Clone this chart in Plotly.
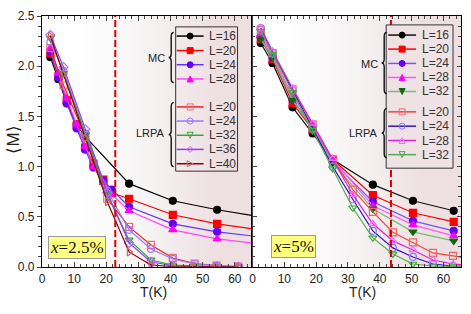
import plotly.graph_objects as go

# ------------------------------------------------------------------ data
# panel (a): x = 2.5 %
T_MC_A = [2.6, 5.1, 7.7, 10.8, 13.4, 16.0, 19.1, 21.7, 27.1, 40.7, 54.5, 68.0]
T_MC16_A = [2.6, 5.1, 7.7, 10.8, 13.4, 27.1, 40.7, 54.5, 68.0]
M_MC16_A = [2.09, 1.87, 1.63, 1.42, 1.30, 0.83, 0.66, 0.57, 0.50]
M_MC20_A = [2.13, 1.90, 1.66, 1.41, 1.19, 1.03, 0.87, 0.74, 0.68, 0.52, 0.43, 0.37]
M_MC24_A = [2.15, 1.89, 1.63, 1.38, 1.17, 0.99, 0.86, 0.77, 0.60, 0.43, 0.35, 0.30]
M_MC28_A = [2.18, 1.93, 1.68, 1.42, 1.20, 1.00, 0.84, 0.72, 0.56, 0.37, 0.28, 0.23]

T_LR_A = [2.6, 6.7, 13.5, 20.3, 27.1, 33.9, 40.7, 47.5, 54.3, 61.1]
M_LR20_A = [2.18, 1.81, 1.30, 0.68, 0.40, 0.22, 0.09, 0.035, 0.015, 0.005]
M_LR24_A = [2.24, 1.95, 1.33, 0.76, 0.37, 0.18, 0.08, 0.03, 0.015, 0.005]
M_LR32_A = [2.28, 1.93, 1.32, 0.72, 0.27, 0.07, 0.02, 0.01, 0.005, 0.002]
M_LR36_A = [2.31, 1.99, 1.37, 0.74, 0.24, 0.05, 0.015, 0.005, 0.002, 0.001]
M_LR40_A = [2.30, 1.92, 1.28, 0.65, 0.15, 0.02, 0.005, 0.002, 0.001, 0.0]

# panel (b): x = 5 %
T_MC_B = [2.6, 6.3, 12.6, 18.9, 25.2, 37.8, 50.4, 63.2]
M_MC16_B = [2.23, 2.03, 1.59, 1.33, 1.07, 0.82, 0.66, 0.56]
M_MC20_B = [2.27, 2.07, 1.63, 1.37, 1.07, 0.715, 0.54, 0.45]
M_MC24_B = [2.29, 2.09, 1.67, 1.39, 1.05, 0.65, 0.46, 0.36]
M_MC28_B = [2.32, 2.11, 1.70, 1.41, 1.07, 0.61, 0.42, 0.31]
M_MC32_B = [2.27, 2.09, 1.66, 1.38, 1.04, 0.58, 0.35, 0.26]

T_LR_B = [2.6, 6.3, 12.6, 18.9, 25.2, 31.5, 37.8, 44.1, 50.4, 56.7, 63.0, 69.3]
M_LR20_B = [2.36, 2.13, 1.77, 1.42, 1.07, 0.77, 0.55, 0.345, 0.245, 0.14, 0.11, 0.08]
M_LR24_B = [2.38, 2.13, 1.76, 1.38, 1.00, 0.675, 0.36, 0.19, 0.10, 0.03, 0.01, 0.005]
M_LR28_B = [2.38, 2.15, 1.78, 1.43, 1.08, 0.72, 0.43, 0.26, 0.17, 0.07, 0.03, 0.015]
M_LR32_B = [2.35, 2.12, 1.74, 1.36, 0.98, 0.59, 0.29, 0.13, 0.03, 0.01, 0.005, 0.002]

TC_A = 22.8      # dashed transition line, panel (a)
TC_B = 43.5      # dashed transition line, panel (b)
X_RANGE = [0, 65.5]
Y_RANGE = [0, 2.5]
X_TICKS = [0, 10, 20, 30, 40, 50, 60]
Y_TICKS = [0.0, 0.5, 1.0, 1.5, 2.0, 2.5]
LABEL_A = "<i>x</i>=2.5%"
LABEL_B = "<i>x</i>=5%"
X_TITLE = "T(K)"
Y_TITLE = "⟨M⟩"

# ------------------------------------------------------------------ styles
# (x, y, name, line colour, symbol, marker colour, line width)
SERIES_A = [
    (T_MC16_A, M_MC16_A, "L=16", "#000000", "circle", "#000000", 1.2),
    (T_MC_A, M_MC20_A, "L=20", "#FF0000", "square", "#FF0000", 1.2),
    (T_MC_A, M_MC24_A, "L=24", "#6633FF", "circle", "#6600EE", 1.2),
    (T_MC_A, M_MC28_A, "L=28", "#FF44FF", "triangle-up", "#FF00FF", 1.2),
    (T_LR_A, M_LR20_A, "L=20", "#EE2222", "square-open", "#F07070", 1.2),
    (T_LR_A, M_LR24_A, "L=24", "#9977FF", "circle-open", "#9977FF", 1.2),
    (T_LR_A, M_LR32_A, "L=32", "#33AA33", "triangle-down-open", "#33AA33", 1.2),
    (T_LR_A, M_LR36_A, "L=36", "#9933FF", "diamond-open", "#BB66FF", 1.2),
    (T_LR_A, M_LR40_A, "L=40", "#880000", "triangle-right-open", "#CC6666", 1.2),
]
SERIES_B = [
    (T_MC_B, M_MC16_B, "L=16", "#111111", "circle", "#000000", 1.2),
    (T_MC_B, M_MC20_B, "L=20", "#FF0000", "square", "#FF0000", 1.2),
    (T_MC_B, M_MC24_B, "L=24", "#7755FF", "circle", "#6600EE", 1.2),
    (T_MC_B, M_MC28_B, "L=28", "#FF55FF", "triangle-up", "#FF00FF", 1.2),
    (T_MC_B, M_MC32_B, "L=32", "#77BB77", "triangle-down", "#116611", 1.2),
    (T_LR_B, M_LR20_B, "L=20", "#EE4444", "square-open", "#EE6666", 1.2),
    (T_LR_B, M_LR24_B, "L=24", "#3311CC", "circle-open", "#8877FF", 1.2),
    (T_LR_B, M_LR28_B, "L=28", "#DD22DD", "triangle-up-open", "#FF66FF", 1.2),
    (T_LR_B, M_LR32_B, "L=32", "#55AA55", "triangle-down-open", "#44AA44", 1.2),
]

W, H = 471, 314
ML, MR, MT, MB = 42, 9, 13, 47
PW, PH = W - ML - MR, H - MT - MB
XS = (253 - ML) / PW


def P(px, py):
    """pixel -> paper coordinates"""
    return (px - ML) / PW, (H - MB - py) / PH


fig = go.Figure()

# background gradient of each panel
for xa, ya in (("x", "y"), ("x2", "y2")):
    fig.add_trace(go.Heatmap(
        x=[X_RANGE[0], X_RANGE[1] / 3, 2 * X_RANGE[1] / 3, X_RANGE[1]],
        y=[Y_RANGE[0], Y_RANGE[1] / 2, Y_RANGE[1]],
        z=[[0, 0.45, 1], [0, 0.45, 1]], zsmooth="best", showscale=False,
        colorscale=[[0, "#FFFFFF"], [0.45, "#F6F3F3"], [1, "#EEDFE1"]],
        hoverinfo="skip", xaxis=xa, yaxis=ya))

for series, xa, ya in ((SERIES_A, "x", "y"), (SERIES_B, "x2", "y2")):
    for (xs, ys, name, lc, sym, mc, lw) in series:
        fig.add_trace(go.Scatter(
            x=xs, y=ys, name=name, mode="lines+markers", xaxis=xa, yaxis=ya,
            line=dict(color=lc, width=lw),
            marker=dict(symbol=sym, size=7, color=mc, line=dict(color=mc, width=1.2)),
            showlegend=False))

shapes = []
annotations = []

# dashed transition lines
for tc, xr, yr in ((TC_A, "x", "y domain"), (TC_B, "x2", "y2 domain")):
    shapes.append(dict(type="line", xref=xr, yref=yr, x0=tc, x1=tc, y0=0, y1=1,
                       line=dict(color="#DD0000", width=2, dash="7px,3px"), layer="above"))


def brace(px, py0, py1):
    ax, ay = P(px, (py0 + py1) / 2)
    h = (py1 - py0) / 2
    w, r = 5, 4
    path = (f"M {w},{h} Q {w/2},{h} {w/2},{h-r} L {w/2},{r} Q {w/2},0 0,0 "
            f"Q {w/2},0 {w/2},{-r} L {w/2},{-h+r} Q {w/2},{-h} {w},{-h}")
    return dict(type="path", xref="paper", yref="paper", xsizemode="pixel", ysizemode="pixel",
                xanchor=ax, yanchor=ay, path=path, line=dict(color="#111", width=1.4), layer="above")


def marker_shape(sym, px, py, color, r=3.0):
    ax, ay = P(px, py)
    base = sym.replace("-open", "")
    fill = "rgba(0,0,0,0)" if sym.endswith("-open") else color
    common = dict(xref="paper", yref="paper", xsizemode="pixel", ysizemode="pixel",
                  xanchor=ax, yanchor=ay, line=dict(color=color, width=1.0),
                  fillcolor=fill, layer="above")
    if base == "circle":
        return dict(type="circle", x0=-r, x1=r, y0=-r, y1=r, **common)
    if base == "square":
        return dict(type="rect", x0=-r, x1=r, y0=-r, y1=r, **common)
    paths = {
        "triangle-up": f"M {-r},{-r} L {r},{-r} L 0,{r} Z",
        "triangle-down": f"M {-r},{r} L {r},{r} L 0,{-r} Z",
        "diamond": f"M 0,{r} L {r},0 L 0,{-r} L {-r},0 Z",
        "triangle-right": f"M {-r},{r} L {r},0 L {-r},{-r} Z",
    }
    return dict(type="path", path=paths[base], **common)


def legend(series, rows, box, fill, xline, brace_x, groups):
    bx0, by0, bx1, by1 = box
    (x0p, y0p), (x1p, y1p) = P(bx0, by0), P(bx1, by1)
    shapes.append(dict(type="rect", xref="paper", yref="paper", x0=x0p, x1=x1p, y0=y1p, y1=y0p,
                       line=dict(color="#333", width=1), fillcolor=fill, layer="above"))
    for (xs, ys, name, lc, sym, mc, lw), py in zip(series, rows):
        a, yy = P(xline[0], py)
        b, _ = P(xline[1], py)
        shapes.append(dict(type="line", xref="paper", yref="paper", x0=a, x1=b, y0=yy, y1=yy,
                           line=dict(color=lc, width=1.5), layer="above"))
        shapes.append(marker_shape(sym, (xline[0] + xline[1]) / 2, py, mc))
        tx, ty = P(xline[2], py)
        annotations.append(dict(x=tx, y=ty, xref="paper", yref="paper", text=name, showarrow=False,
                                xanchor="left", yanchor="middle", font=dict(size=12, color="#333")))
    for label, lx, ly, gy0, gy1 in groups:
        shapes.append(brace(brace_x, gy0, gy1))
        tx, ty = P(lx, ly)
        annotations.append(dict(x=tx, y=ty, xref="paper", yref="paper", text=label, showarrow=False,
                                xanchor="right", yanchor="middle", font=dict(size=11, color="#222")))


legend(SERIES_A, [33.3, 48.0, 62.3, 76.7, 105.0, 119.3, 133.7, 148.0, 162.5],
       (176, 24, 238, 170), "rgba(0,0,0,0)", (177, 204, 207), 169,
       [("MC", 167, 55, 30, 80), ("LRPA", 167, 131, 101, 165)])
legend(SERIES_B, [32.3, 46.5, 61.0, 75.2, 89.4, 110.0, 124.5, 139.0, 153.3],
       (387, 22, 454, 167), "#EFE2E4", (389, 417, 421), 382.5,
       [("MC", 381, 62, 30, 91), ("LRPA", 381, 131, 107, 156)])

for label, cx, cy in ((LABEL_A, 77, 247), (LABEL_B, 294, 246)):
    x, y = P(cx, cy)
    annotations.append(dict(x=x, y=y, xref="paper", yref="paper", text=label, showarrow=False,
                            xanchor="center", yanchor="middle", bgcolor="#FFFF80",
                            bordercolor="#999999", borderwidth=1, borderpad=1,
                            font=dict(family="Times New Roman, Liberation Serif, serif",
                                      size=17, color="#111")))

# axis titles
for cx in (154, 363):
    x, y = P(cx, 292)
    annotations.append(dict(x=x, y=y, xref="paper", yref="paper", text=X_TITLE, showarrow=False,
                            xanchor="center", yanchor="middle", font=dict(size=14, color="#222")))
x, y = P(13, 138)
annotations.append(dict(x=x, y=y, xref="paper", yref="paper", text=Y_TITLE, showarrow=False,
                        textangle=-90, xanchor="center", yanchor="middle",
                        font=dict(size=17, color="#222")))

axis_common = dict(range=X_RANGE, tickvals=X_TICKS, ticks="inside", ticklen=5, tickwidth=1,
                   minor=dict(dtick=2, tick0=0, ticks="inside", ticklen=3, tickwidth=1),
                   showline=True, linecolor="#000", linewidth=1.2, mirror="ticks",
                   showgrid=False, zeroline=False,
                   tickfont=dict(size=12, color="#222"))

fig.update_layout(
    width=W, height=H, margin=dict(l=ML, r=MR, t=MT, b=MB),
    paper_bgcolor="white", plot_bgcolor="white", showlegend=False,
    font=dict(family="Arial, Liberation Sans, sans-serif", size=12, color="#222"),
    xaxis=dict(domain=[0, XS], anchor="y", **axis_common),
    xaxis2=dict(domain=[XS, 1], anchor="y2", **axis_common),
    yaxis=dict(domain=[0, 1], range=Y_RANGE, tickvals=Y_TICKS, tickformat=".1f",
               ticks="outside", ticklen=4, tickwidth=1, ticklabeloverflow="allow",
               minor=dict(dtick=0.1, tick0=0, ticks="outside", ticklen=2.5, tickwidth=1),
               showline=True, linecolor="#000", linewidth=1.2, mirror="ticks",
               showgrid=False, zeroline=False, anchor="x",
               tickfont=dict(size=12, color="#222")),
    yaxis2=dict(domain=[0, 1], matches="y", range=Y_RANGE, tickvals=Y_TICKS,
                showticklabels=False, ticks="inside", ticklen=4, tickwidth=1,
                minor=dict(dtick=0.1, tick0=0, ticks="inside", ticklen=2.5, tickwidth=1),
                showline=True, linecolor="#000", linewidth=1.2, mirror="ticks",
                showgrid=False, zeroline=False, anchor="x2"),
    shapes=shapes, annotations=annotations,
)

# remove the browser's default 8px body margin so the figure sits at the page origin
fig.write_html("out.html", config={"displayModeBar": False},
               post_script="document.body.style.margin='0px';")
